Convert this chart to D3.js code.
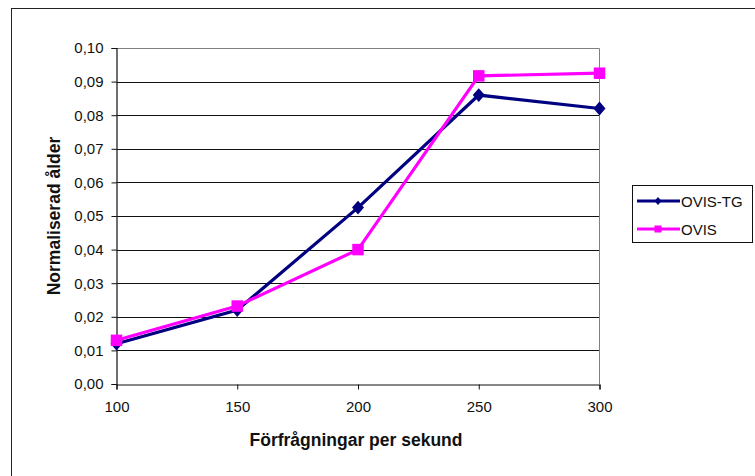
<!DOCTYPE html>
<html>
<head>
<meta charset="utf-8">
<script src="https://cdn.jsdelivr.net/npm/d3@7"></script>
<style>
html,body{margin:0;padding:0;background:#fff;}
svg{display:block;}
text{font-family:"Liberation Sans",Arial,sans-serif;}
</style>
</head>
<body>
<svg id="chart" width="755" height="476"></svg>
<script>
const categories = [100, 150, 200, 250, 300];
const ovisTG = [0.012, 0.022, 0.0525, 0.086, 0.082];
const ovis = [0.013, 0.0232, 0.040, 0.0917, 0.0925];
const yTicks = [0, 0.01, 0.02, 0.03, 0.04, 0.05, 0.06, 0.07, 0.08, 0.09, 0.10];
const seriesNames = ["OVIS-TG", "OVIS"];
const seriesColors = ["#000080", "#FF00FF"];

const svg = d3.select("#chart");
const L = 116.5, R = 599.5, T = 48, B = 384;

// outer frame (clipped at right/bottom)
svg.append("rect").attr("x", 11.5).attr("y", 8.5).attr("width", 800).attr("height", 500)
  .attr("fill", "#fff").attr("stroke", "#222").attr("stroke-width", 1);

const x = d3.scaleLinear().domain([100, 300]).range([L, R]);
const y = d3.scaleLinear().domain([0, 0.10]).range([B, T]);

// gridlines
svg.append("g").selectAll("line").data(yTicks.filter(d => d > 0 && d < 0.10)).join("line")
  .attr("x1", L).attr("x2", R).attr("y1", d => Math.round(y(d)) + 0.5).attr("y2", d => Math.round(y(d)) + 0.5)
  .attr("stroke", "#111").attr("stroke-width", 1.2);

// plot border top/right (gray)
svg.append("path").attr("d", `M${L},${T + 0.5}H${R}V${B}`).attr("fill", "none").attr("stroke", "#808080");

const fmt = d => d3.format(".2f")(d).replace(".", ",");

// y axis
const yAxis = svg.append("g").attr("transform", `translate(${L},0)`)
  .call(d3.axisLeft(y).tickValues(yTicks).tickFormat(fmt).tickSizeOuter(0).tickSize(5).tickPadding(8));
yAxis.select(".domain").attr("stroke", "#111").attr("stroke-width", 1.2);
yAxis.selectAll(".tick line").attr("stroke", "#111");
yAxis.selectAll(".tick text").attr("font-size", 15).attr("fill", "#111").attr("font-family", "Liberation Sans, Arial, sans-serif");

// x axis
const xAxis = svg.append("g").attr("transform", `translate(0,${B + 0.5})`)
  .call(d3.axisBottom(x).tickValues(categories).tickSizeOuter(0).tickSize(5).tickPadding(12));
xAxis.select(".domain").attr("stroke", "#111").attr("stroke-width", 1.2);
xAxis.selectAll(".tick line").attr("stroke", "#111");
xAxis.selectAll(".tick text").attr("font-size", 15).attr("fill", "#111").attr("font-family", "Liberation Sans, Arial, sans-serif");

// axis titles
svg.append("text").attr("x", 356).attr("y", 446).attr("text-anchor", "middle")
  .attr("font-size", 17.5).attr("font-weight", "bold").attr("fill", "#111").text("Förfrågningar per sekund");
svg.append("text").attr("transform", `translate(60,216) rotate(-90)`).attr("text-anchor", "middle")
  .attr("font-size", 17.5).attr("font-weight", "bold").attr("fill", "#111").text("Normaliserad ålder");

// custom diamond (width w, height h from size)
const diamond = { draw(ctx, size) { const w = Math.sqrt(size) / 2, h = w * 1.15;
  ctx.moveTo(0, -h); ctx.lineTo(w, 0); ctx.lineTo(0, h); ctx.lineTo(-w, 0); ctx.closePath(); } };

const line = d3.line().x((d, i) => x(categories[i])).y(d => y(d));
const allSeries = [ovisTG, ovis];
const markerShapes = [diamond, d3.symbolSquare];
const markerSizes = [144, 132];

allSeries.forEach((s, k) => {
  svg.append("path").datum(s).attr("d", line).attr("fill", "none")
    .attr("stroke", seriesColors[k]).attr("stroke-width", 3.2).attr("stroke-linejoin", "miter");
  svg.append("g").selectAll("path").data(s).join("path")
    .attr("transform", (d, i) => `translate(${x(categories[i])},${y(d)})`)
    .attr("d", d3.symbol().type(markerShapes[k]).size(markerSizes[k]))
    .attr("fill", seriesColors[k]);
});

// legend
const lg = svg.append("g");
lg.append("rect").attr("x", 632.5).attr("y", 185.5).attr("width", 120).attr("height", 57)
  .attr("fill", "#fff").attr("stroke", "#111");
seriesNames.forEach((n, k) => {
  const yy = k === 0 ? 201 : 229;
  lg.append("line").attr("x1", 637).attr("x2", 680).attr("y1", yy).attr("y2", yy)
    .attr("stroke", seriesColors[k]).attr("stroke-width", 3);
  lg.append("path").attr("transform", `translate(658,${yy})`)
    .attr("d", d3.symbol().type(markerShapes[k]).size(k === 0 ? 49 : 49)).attr("fill", seriesColors[k]);
  lg.append("text").attr("x", 681).attr("y", yy + 5.5).attr("font-size", 15).attr("fill", "#111").text(n);
});
</script>
</body>
</html>
